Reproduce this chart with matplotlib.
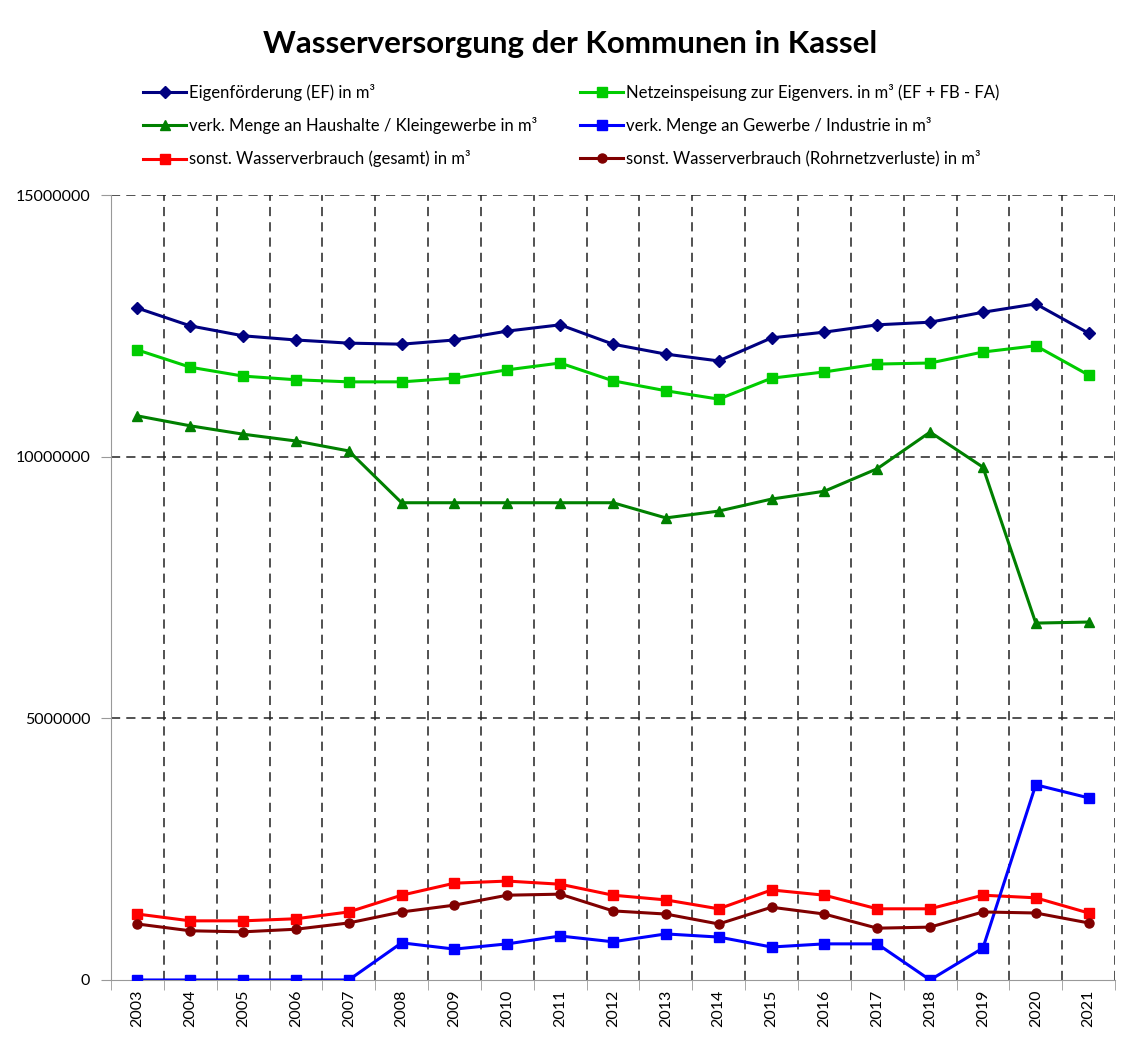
import numpy as np
import matplotlib
matplotlib.use("Agg")
import matplotlib.pyplot as plt
from matplotlib.ticker import FixedLocator

plt.rcParams['font.family'] = ['Lato', 'DejaVu Sans']

years = [str(y) for y in range(2003, 2022)]
eigenfoerderung = [12.84, 12.50, 12.31, 12.23, 12.17, 12.15, 12.23, 12.40, 12.52, 12.15,
                   11.96, 11.83, 12.27, 12.38, 12.52, 12.57, 12.76, 12.92, 12.36]
netzeinspeisung = [12.04, 11.71, 11.54, 11.47, 11.43, 11.43, 11.50, 11.66, 11.79, 11.45,
                   11.26, 11.10, 11.50, 11.62, 11.77, 11.79, 12.00, 12.12, 11.56]
haushalte = [10.78, 10.59, 10.43, 10.30, 10.11, 9.12, 9.12, 9.12, 9.12, 9.12,
             8.83, 8.96, 9.19, 9.34, 9.77, 10.47, 9.80, 6.82, 6.84]
gewerbe = [0, 0, 0, 0, 0, 0.71, 0.59, 0.69, 0.84, 0.73,
           0.88, 0.82, 0.63, 0.69, 0.69, 0, 0.61, 3.73, 3.48]
sonst_gesamt = [1.26, 1.13, 1.13, 1.17, 1.30, 1.62, 1.85, 1.89, 1.83, 1.62,
                1.53, 1.36, 1.72, 1.62, 1.36, 1.36, 1.62, 1.57, 1.28]
rohrnetz = [1.07, 0.94, 0.92, 0.97, 1.09, 1.30, 1.43, 1.62, 1.64, 1.32,
            1.26, 1.07, 1.39, 1.26, 0.99, 1.01, 1.30, 1.28, 1.09]

series = [
    ("Eigenförderung (EF) in m³", eigenfoerderung, "#000080", "D", 6),
    ("verk. Menge an Haushalte / Kleingewerbe in m³", haushalte, "#008000", "^", 7),
    ("sonst. Wasserverbrauch (gesamt) in m³", sonst_gesamt, "#FF0000", "s", 6.5),
    ("Netzeinspeisung zur Eigenvers. in m³ (EF + FB - FA)", netzeinspeisung, "#00CC00", "s", 6.5),
    ("verk. Menge an Gewerbe / Industrie in m³", gewerbe, "#0000FF", "s", 6.5),
    ("sonst. Wasserverbrauch (Rohrnetzverluste) in m³", rohrnetz, "#800000", "o", 6.5),
]

fig = plt.figure(figsize=(11.22, 10.38), dpi=100)
ax = fig.add_axes([0.0989, 0.0559, 0.8949, 0.7562])
x = np.arange(len(years))
handles = []
for label, vals, col, mk, ms in series:
    h, = ax.plot(x, np.array(vals) * 1e6, color=col, marker=mk, markersize=ms,
                 linewidth=2.2, label=label, zorder=3)
    handles.append(h)

ax.set_xlim(-0.5, len(years) - 0.5)
ax.set_ylim(0, 15e6)
ax.set_yticks([0, 5e6, 10e6, 15e6])
ax.set_yticklabels(["0", "5000000", "10000000", "15000000"], fontsize=11.5)
ax.set_xticks(x)
ax.set_xticklabels(years, rotation=90, fontsize=11.5)
ax.xaxis.set_minor_locator(FixedLocator(np.arange(-0.5, len(years), 1.0)))
ax.tick_params(axis="x", which="major", length=0, pad=7)
ax.tick_params(axis="x", which="minor", length=7, color="#999999")
ax.tick_params(axis="y", length=7, color="#999999", pad=8)

for s in ["top", "right"]:
    ax.spines[s].set_visible(False)
ax.spines["left"].set_color("#999999")
ax.spines["bottom"].set_color("#999999")

for v in [5e6, 10e6, 15e6]:
    ax.axhline(v, color="#222222", linewidth=1.1, dashes=(6, 4), zorder=1)
for b in np.arange(0.5, len(years), 1.0):
    ax.axvline(b, color="#222222", linewidth=1.1, dashes=(6, 4), zorder=1)

fig.text(0.508, 0.958, "Wasserversorgung der Kommunen in Kassel", ha="center", va="center",
         fontsize=22.5, fontweight="bold")

leg_kw = dict(loc="upper left", frameon=False, fontsize=12, handlelength=2.6,
              handletextpad=0.15, labelspacing=0.97, borderpad=0, borderaxespad=0)
fig.legend(handles=handles[:3], bbox_to_anchor=(143 / 1122, 1 - 84 / 1038), **leg_kw)
fig.legend(handles=handles[3:], bbox_to_anchor=(580 / 1122, 1 - 84 / 1038), **leg_kw)

plt.savefig("out.png", dpi=100)
